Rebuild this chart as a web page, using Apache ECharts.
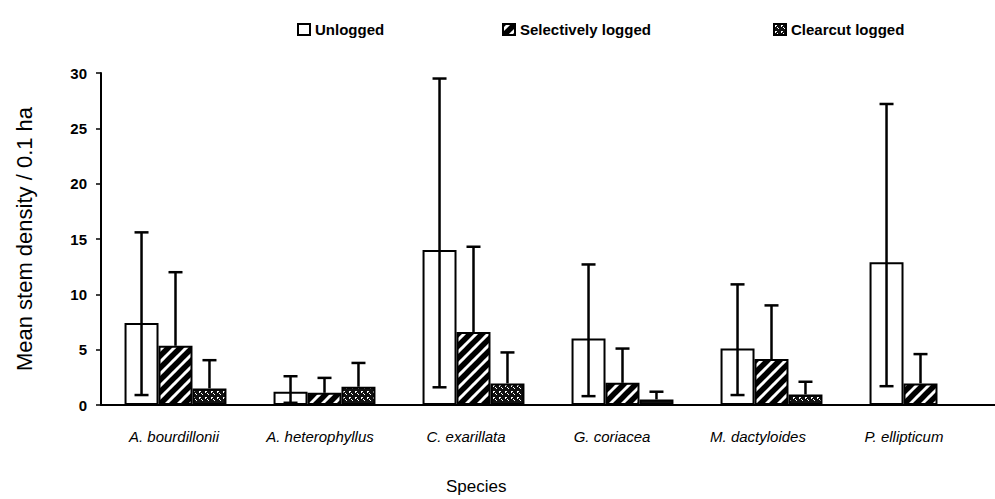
<!DOCTYPE html>
<html>
<head>
<meta charset="utf-8">
<script src="https://cdn.jsdelivr.net/npm/echarts@6/dist/echarts.min.js"></script>
<style>html,body{margin:0;padding:0;background:#fff}#c{width:995px;height:499px}</style>
</head>
<body>
<div id="c"></div>
<script>
const categories = ['A. bourdillonii', 'A. heterophyllus', 'C. exarillata', 'G. coriacea', 'M. dactyloides', 'P. ellipticum'];
const seriesNames = ['Unlogged', 'Selectively logged', 'Clearcut logged'];
const unlogged = [7.4, 1.2, 14.0, 6.0, 5.1, 12.9];
const unloggedHigh = [15.6, 2.6, 29.5, 12.7, 10.9, 27.2];
const unloggedLow = [0.9, 0.2, 1.6, 0.8, 0.9, 1.7];
const selective = [5.35, 1.1, 6.6, 2.0, 4.15, 1.95];
const selectiveHigh = [12.0, 2.45, 14.3, 5.1, 9.0, 4.6];
const clearcut = [1.5, 1.65, 1.95, 0.5, 0.95, 0];
const clearcutHigh = [4.05, 3.8, 4.75, 1.2, 2.1, null];
const yTicks = { min: 0, max: 30, interval: 5 };

const FONT = 'Liberation Sans, Arial, sans-serif';

function stripePattern() {
  const s = 12, c = document.createElement('canvas');
  c.width = s; c.height = s;
  const g = c.getContext('2d');
  g.fillStyle = '#fff'; g.fillRect(0, 0, s, s);
  g.strokeStyle = '#000'; g.lineWidth = 5.5;
  [0, s, 2 * s].forEach(function (k) {
    g.beginPath(); g.moveTo(-2, k + 2); g.lineTo(k + 2, -2); g.stroke();
  });
  return { image: c, repeat: 'repeat' };
}
function dotPattern() {
  const s = 6, c = document.createElement('canvas');
  c.width = s; c.height = s;
  const g = c.getContext('2d');
  g.fillStyle = '#111'; g.fillRect(0, 0, s, s);
  g.fillStyle = '#fff';
  g.fillRect(1, 1, 2, 1); g.fillRect(1, 2, 1, 1);
  g.fillRect(4, 4, 1, 1); g.fillRect(3, 3, 1, 1);
  return { image: c, repeat: 'repeat' };
}

const GAP = 0.316;
function errData(hi, lo, slot, cap) {
  const out = [];
  hi.forEach(function (h, i) {
    if (h === null) return;
    out.push([i, lo[i], h, slot, cap ? 1 : 0]);
  });
  return out;
}
function renderErr(params, api) {
  const cat = api.value(0), lo = api.value(1), hi = api.value(2), slot = api.value(3), cap = api.value(4);
  const cw = api.size([1, 0])[0];
  const bw = cw * (1 - GAP) / 3;
  const x = api.coord([cat, 0])[0] + (slot - 1) * bw;
  const yh = api.coord([cat, hi])[1];
  const yl = api.coord([cat, lo])[1];
  const st = { stroke: '#000', lineWidth: 2.5 };
  const ch = [
    { type: 'line', shape: { x1: x, y1: yh, x2: x, y2: yl }, style: st },
    { type: 'line', shape: { x1: x - 7, y1: yh, x2: x + 7, y2: yh }, style: st }
  ];
  if (cap) ch.push({ type: 'line', shape: { x1: x - 7, y1: yl, x2: x + 7, y2: yl }, style: st });
  return { type: 'group', children: ch };
}

const chart = echarts.init(document.getElementById('c'), null, { renderer: 'svg' });
const barBase = { type: 'bar', xAxisIndex: 0, yAxisIndex: 0, barGap: 0, barCategoryGap: (GAP * 100) + '%' };
const legendBase = { top: 17, itemWidth: 12, itemHeight: 11, icon: 'rect',
  textStyle: { fontFamily: FONT, fontWeight: 'bold', fontSize: 15, color: '#000' },
  itemStyle: { borderWidth: 2, borderColor: '#000' } };

chart.setOption({
  animation: false,
  backgroundColor: '#fff',
  title: { text: 'Species', left: 446, top: 478, padding: 0,
    textStyle: { fontFamily: FONT, fontWeight: 'normal', fontSize: 17, color: '#000' } },
  legend: [
    Object.assign({}, legendBase, { data: [seriesNames[0]], left: 292 }),
    Object.assign({}, legendBase, { data: [seriesNames[1]], left: 497 }),
    Object.assign({}, legendBase, { data: [seriesNames[2]], left: 768 })
  ],
  grid: [
    { left: 101, top: 73, width: 912, bottom: 94 },
    { left: 101, top: 73, width: 876, bottom: 94 }
  ],
  xAxis: [
    { type: 'category', gridIndex: 0, data: categories,
      axisLine: { lineStyle: { color: '#000', width: 2 } },
      axisTick: { length: 4, lineStyle: { color: '#000', width: 1.5 } },
      axisLabel: { show: false } },
    { type: 'category', gridIndex: 1, data: categories,
      axisLine: { show: false }, axisTick: { show: false },
      axisLabel: { margin: 24, fontFamily: FONT, fontStyle: 'italic', fontSize: 15, color: '#000' } }
  ],
  yAxis: [
    { type: 'value', gridIndex: 0, min: yTicks.min, max: yTicks.max, interval: yTicks.interval,
      name: 'Mean stem density / 0.1 ha', nameLocation: 'middle', nameGap: 66,
      nameTextStyle: { fontFamily: FONT, fontSize: 22, color: '#000' },
      axisLine: { show: true, lineStyle: { color: '#000', width: 2 } },
      axisTick: { show: true, length: 5, lineStyle: { color: '#000', width: 1.5 } },
      splitLine: { show: false },
      axisLabel: { margin: 14, fontFamily: FONT, fontWeight: 'bold', fontSize: 15, color: '#000' } },
    { type: 'value', gridIndex: 1, show: false, min: 0, max: 30 }
  ],
  series: [
    Object.assign({}, barBase, { name: seriesNames[0], data: unlogged,
      itemStyle: { color: '#fff', borderColor: '#000', borderWidth: 2 } }),
    Object.assign({}, barBase, { name: seriesNames[1], data: selective,
      itemStyle: { color: stripePattern(), borderColor: '#000', borderWidth: 2 } }),
    Object.assign({}, barBase, { name: seriesNames[2], data: clearcut,
      itemStyle: { color: dotPattern(), borderColor: '#000', borderWidth: 2 } }),
    { type: 'custom', name: 'err0', xAxisIndex: 0, yAxisIndex: 0, z: 5, renderItem: renderErr,
      encode: { x: 0, y: [1, 2] }, data: errData(unloggedHigh, unloggedLow, 0, true) },
    { type: 'custom', name: 'err1', xAxisIndex: 0, yAxisIndex: 0, z: 5, renderItem: renderErr,
      encode: { x: 0, y: [1, 2] }, data: errData(selectiveHigh, selective, 1, false) },
    { type: 'custom', name: 'err2', xAxisIndex: 0, yAxisIndex: 0, z: 5, renderItem: renderErr,
      encode: { x: 0, y: [1, 2] }, data: errData(clearcutHigh, clearcut, 2, false) }
  ]
});
</script>
</body>
</html>
